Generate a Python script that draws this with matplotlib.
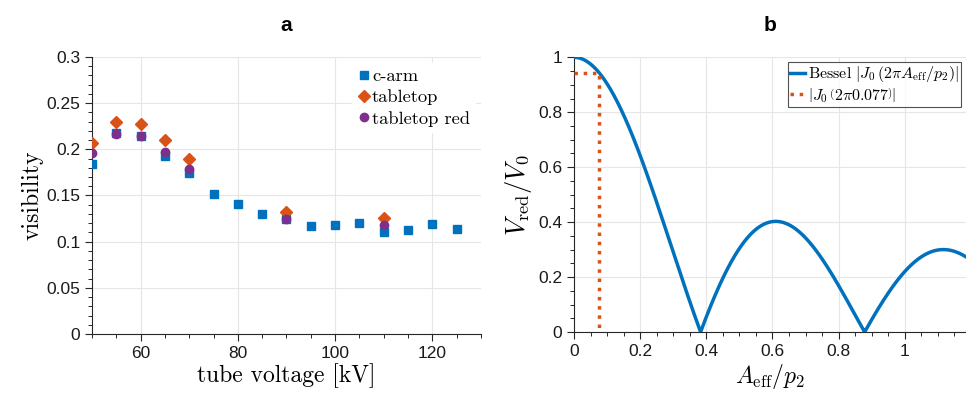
import numpy as np
import matplotlib
matplotlib.use("Agg")
import matplotlib.pyplot as plt
from matplotlib.ticker import MultipleLocator

plt.rcParams['font.family'] = ['Liberation Sans', 'DejaVu Sans']
plt.rcParams['mathtext.fontset'] = 'cm'

# ---- panel a data ----
kv_carm = [50, 55, 60, 65, 70, 75, 80, 85, 90, 95, 100, 105, 110, 115, 120, 125]
vis_carm = [0.184, 0.218, 0.214, 0.193, 0.174, 0.152, 0.141, 0.130, 0.124,
            0.117, 0.118, 0.120, 0.110, 0.113, 0.119, 0.114]
kv_table = [50, 55, 60, 65, 70, 90, 110]
vis_table = [0.207, 0.230, 0.227, 0.210, 0.190, 0.132, 0.126]
kv_tred = [50, 55, 60, 65, 70, 90, 110]
vis_tred = [0.196, 0.217, 0.214, 0.197, 0.179, 0.125, 0.118]

# ---- panel b data ----
a_eff_point = 0.077
a_eff = np.linspace(0, 1.185, 600)


def j0(z):
    th = np.linspace(0, np.pi, 801)
    z = np.atleast_1d(z)
    return np.trapezoid(np.cos(np.outer(z, np.sin(th))), th, axis=1) / np.pi


bessel = np.abs(j0(2 * np.pi * a_eff))
v_point = float(np.abs(j0(2 * np.pi * a_eff_point))[0])

BLUE = '#0072BD'
ORANGE = '#D95319'
PURPLE = '#7E2F8E'
GRID = '#e6e6e6'
SERIF = ['cmr10', 'DejaVu Serif']

fig = plt.figure(figsize=(9.66, 3.96), dpi=100)
axa = fig.add_axes([0.0952, 0.1566, 0.4027, 0.6995])
axb = fig.add_axes([0.5942, 0.1616, 0.4058, 0.6937])

for ax in (axa, axb):
    for s in ('top', 'right'):
        ax.spines[s].set_visible(False)
    for s in ('left', 'bottom'):
        ax.spines[s].set_color('#262626')
        ax.spines[s].set_linewidth(0.8)
    ax.grid(True, which='major', color=GRID, linewidth=0.8)
    ax.set_axisbelow(True)
    ax.tick_params(which='major', direction='out', length=5, width=0.8,
                   labelsize=12.5, colors='#262626', labelcolor='#1a1a1a')
    ax.tick_params(which='minor', direction='out', length=3, width=0.7,
                   colors='#262626')

# Panel a
axa.plot(kv_carm, vis_carm, 's', color=BLUE, ms=5.5, label='c-arm', zorder=3)
axa.plot(kv_table, vis_table, 'D', color=ORANGE, ms=6, label='tabletop', zorder=3)
axa.plot(kv_tred, vis_tred, 'o', color=PURPLE, ms=6, label='tabletop red', zorder=4)
axa.set_xlim(50, 130)
axa.set_ylim(0, 0.3)
axa.xaxis.set_minor_locator(MultipleLocator(5))
axa.yaxis.set_minor_locator(MultipleLocator(0.01))
axa.set_xticks([60, 80, 100, 120])
axa.set_yticks([0, 0.05, 0.1, 0.15, 0.2, 0.25, 0.3])
axa.set_yticklabels(['0', '0.05', '0.1', '0.15', '0.2', '0.25', '0.3'])
axa.set_xlabel('tube voltage [kV]', fontsize=17, labelpad=2, family=SERIF)
axa.set_ylabel('visibility', fontsize=17, labelpad=2, family=SERIF)
axa.set_title('a', fontsize=15, fontweight='bold', pad=19)
leg = axa.legend(loc='upper right', frameon=True,
                 handlelength=0.6, handletextpad=0.15, borderpad=0.3,
                 labelspacing=0.3, borderaxespad=0.3,
                 prop={'family': SERIF, 'size': 13.3})
leg.get_frame().set_edgecolor('white')
leg.get_frame().set_alpha(1)

# Panel b
axb.plot(a_eff, bessel, '-', color=BLUE, lw=2.5,
         label=r'$\mathrm{Bessel}\ \left|J_0\,\left(2\pi A_{\mathrm{eff}}/p_2\right)\right|$',
         zorder=3)
axb.plot([0, a_eff_point, a_eff_point], [v_point, v_point, 0], ':',
         color=ORANGE, lw=2.5,
         label=r'$\left|J_0\,\left(2\pi 0.077\right)\right|$', zorder=4)
axb.set_xlim(0, 1.185)
axb.set_ylim(0, 1)
axb.xaxis.set_minor_locator(MultipleLocator(0.05))
axb.yaxis.set_minor_locator(MultipleLocator(0.05))
axb.set_xticks([0, 0.2, 0.4, 0.6, 0.8, 1.0])
axb.set_xticklabels(['0', '0.2', '0.4', '0.6', '0.8', '1'])
axb.set_yticks([0, 0.2, 0.4, 0.6, 0.8, 1.0])
axb.set_yticklabels(['0', '0.2', '0.4', '0.6', '0.8', '1'])
axb.set_xlabel(r'$A_{\mathrm{eff}}/p_2$', fontsize=17, labelpad=2)
axb.set_ylabel(r'$V_{\mathrm{red}}/V_0$', fontsize=19, labelpad=3)
axb.set_title('b', fontsize=15, fontweight='bold', pad=19)
legb = axb.legend(loc='upper right', frameon=True, fontsize=11.5,
                  handlelength=0.9, handletextpad=0.2, borderpad=0.15,
                  labelspacing=0.1, borderaxespad=0.3, fancybox=False)
legb.get_frame().set_edgecolor('#262626')
legb.get_frame().set_linewidth(0.8)

fig.savefig('out.png', dpi=100)
